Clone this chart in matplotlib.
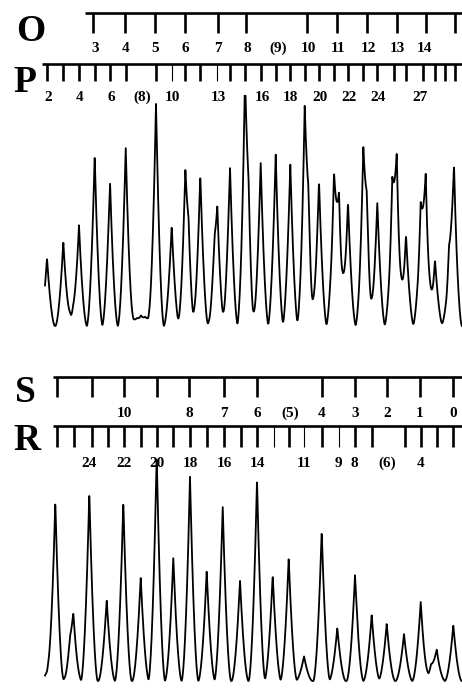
import numpy as np
import matplotlib.pyplot as plt

W, H = 462, 689
SERIF = ['Liberation Serif', 'DejaVu Serif']

# ruler O (top scale)
o_ticks = [93, 125, 155, 185, 218, 246, 307, 337, 367, 397, 426, 455]
o_label_pos = [95, 126, 155, 185, 218, 247, 278, 308, 338, 368, 397, 424]
o_labels = ['3', '4', '5', '6', '7', '8', '(9)', '10', '11', '12', '13', '14']

# ruler P
p_ticks = [47, 63, 79, 95, 110, 126, 156, 185, 200, 230, 245, 261, 276, 290,
           305, 319, 334, 348, 363, 377, 394, 406, 423, 435, 445, 455]
p_thin = [172, 217]
p_label_pos = [48, 80, 111, 142, 172, 218, 262, 290, 320, 349, 378, 420]
p_labels = ['2', '4', '6', '(8)', '10', '13', '16', '18', '20', '22', '24', '27']

# ruler S
s_ticks = [57, 92, 124, 157, 189, 224, 257, 322, 355, 387, 420, 453]
s_label_pos = [124, 189, 224, 257, 290, 322, 355, 387, 420, 453]
s_labels = ['10', '8', '7', '6', '(5)', '4', '3', '2', '1', '0']

# ruler R
r_ticks = [57, 74, 92, 108, 124, 141, 157, 173, 190, 207, 224, 241, 257, 289,
           322, 355, 372, 405, 421, 437, 453]
r_thin = [274, 304, 339]
r_label_pos = [89, 124, 157, 190, 224, 257, 304, 338, 354, 387, 421]
r_labels = ['24', '22', '20', '18', '16', '14', '11', '9', '8', '(6)', '4']

# upper trace: peak positions and heights (baseline = 0)
top_pos = [47, 63.3, 70, 73, 79, 94.7, 110, 125.7, 133, 137, 141, 145, 149,
           156, 171.7, 185.3, 188.5, 200.3, 214.5, 217.3, 230, 245, 248.5,
           260.7, 275.7, 290.3, 304.7, 308.3, 319, 334, 339, 348, 363.3,
           366.7, 377.3, 392.3, 396.7, 406, 420.7, 425.7, 435, 449, 454]
top_height = [68, 84, 7, 9, 100, 170, 145, 179, 6, 4, 8, 5, 7,
              223, 100, 136, 55, 151, 45, 99, 159, 225, 70,
              163, 172, 162, 195, 75, 145, 135, 111, 124, 150,
              80, 123, 115, 145, 91, 101, 135, 66, 55, 152]

# lower trace
bot_pos = [48, 55.3, 70, 73.3, 89.3, 106.7, 123.3, 140.7, 156.7, 173.3, 190,
           206.7, 222.7, 240, 257, 272.7, 288.7, 304, 321.7, 337.3, 355,
           371.7, 386.7, 404, 420.7, 431, 436.7, 453.3]
bot_height = [12, 179, 20, 60, 188, 81, 179, 104, 226, 123, 205,
              110, 175, 101, 201, 106, 123, 25, 150, 53, 106,
              66, 57, 47, 79, 13, 30, 56]


def trace(x, pos, height, half_base, p):
    t = np.clip(1 - np.abs(x[:, None] - np.array(pos)) / half_base, 0, None)
    return (np.array(height) * t ** p).sum(axis=1)


def ruler(ax, y, x0, ticks, length, label_pos, labels, label_y, thin=()):
    ax.plot([x0, W], [y, y], color='k', lw=1.9, solid_capstyle='butt')
    ax.vlines(ticks, y, y + length, color='k', lw=1.9)
    if thin:
        ax.vlines(thin, y, y + length, color='k', lw=0.8)
    for xp, txt in zip(label_pos, labels):
        ax.text(xp, label_y, txt, ha='center', va='baseline', fontsize=11,
                fontweight='bold', family=SERIF)


fig = plt.figure(figsize=(W / 100, H / 100), dpi=100)
ov = fig.add_axes([0, 0, 1, 1])
ov.set_xlim(0, W)
ov.set_ylim(H, 0)
ov.axis('off')

for letter, xl, yl in [('O', 31, 41), ('P', 25, 92), ('S', 25, 402), ('R', 27, 450)]:
    ov.text(xl, yl, letter, ha='center', va='baseline', fontsize=27,
            fontweight='bold', family=SERIF)

ruler(ov, 13, 85, o_ticks, 20, o_label_pos, o_labels, 52)
ruler(ov, 64, 42, p_ticks, 17, p_label_pos, p_labels, 101, p_thin)
ruler(ov, 377, 53, s_ticks, 20, s_label_pos, s_labels, 417)
ruler(ov, 426, 53, r_ticks, 21, r_label_pos, r_labels, 467, r_thin)

# upper chromatogram (baseline at pixel row 328)
ax1 = fig.add_axes([0, 1 - 340 / H, 1, 245 / H])
x1 = np.linspace(45, W, 2000)
ax1.plot(x1, trace(x1, top_pos, top_height, 8.0, 1.8) + 2, color='k', lw=1.3)
ax1.set_xlim(0, W)
ax1.set_ylim(-12, 233)
ax1.axis('off')
ax1.patch.set_visible(False)

# lower chromatogram (baseline at pixel row 683)
ax2 = fig.add_axes([0, 0, 1, 239 / H])
x2 = np.linspace(45, W, 2000)
ax2.plot(x2, trace(x2, bot_pos, bot_height, 8.5, 1.8) + 2, color='k', lw=1.3)
ax2.set_xlim(0, W)
ax2.set_ylim(-6, 233)
ax2.axis('off')
ax2.patch.set_visible(False)

fig.savefig('out.png', dpi=100)
